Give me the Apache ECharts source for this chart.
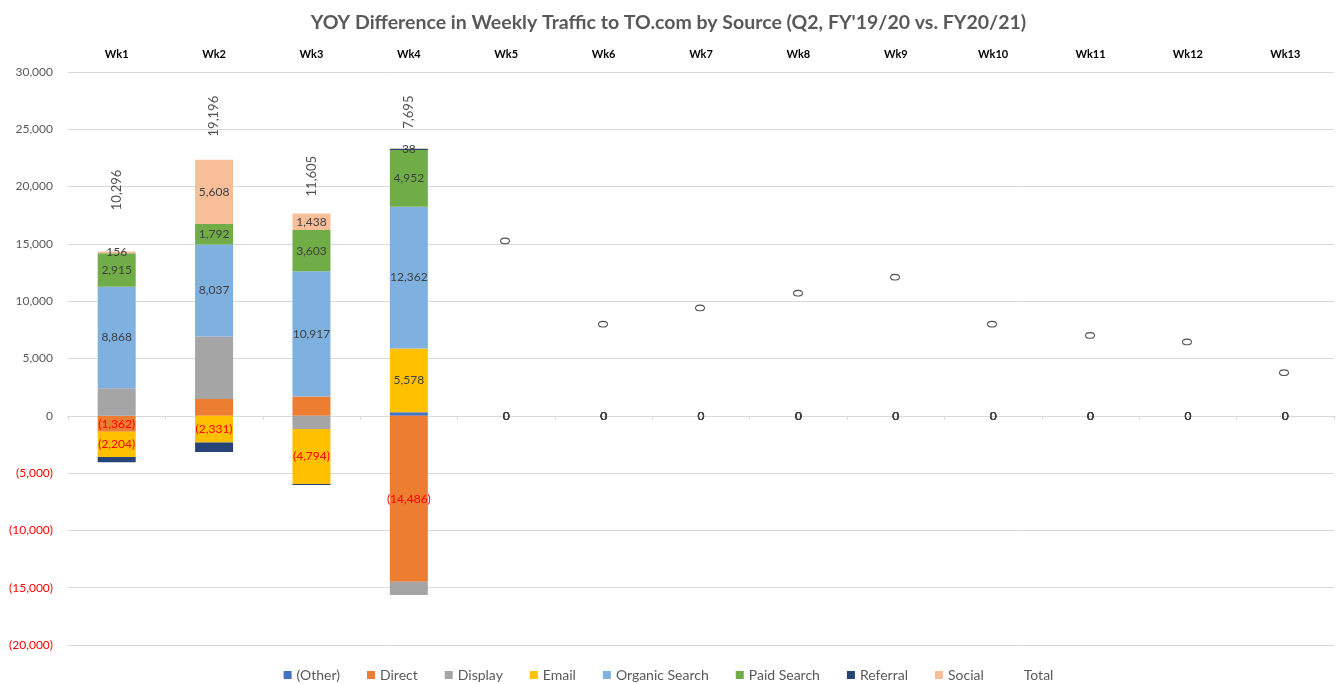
<!DOCTYPE html>
<html>
<head>
<meta charset="utf-8">
<script src="https://cdn.jsdelivr.net/npm/echarts@6/dist/echarts.min.js"></script>
<style>
html,body{margin:0;padding:0;background:#fff;}
#chart{width:1337px;height:684px;}
</style>
</head>
<body>
<div id="chart"></div>
<script>
const categories = ['Wk1','Wk2','Wk3','Wk4','Wk5','Wk6','Wk7','Wk8','Wk9','Wk10','Wk11','Wk12','Wk13'];
const other    = [-20, 0, 0, 300, 0, 0, 0, 0, 0, 0, 0, 0, 0];
const direct   = [-1362, 1460, 1691, -14486, 0, 0, 0, 0, 0, 0, 0, 0, 0];
const display  = [2400, 5450, -1150, -1149, 0, 0, 0, 0, 0, 0, 0, 0, 0];
const email    = [-2204, -2331, -4794, 5578, 0, 0, 0, 0, 0, 0, 0, 0, 0];
const organic  = [8868, 8037, 10917, 12362, 0, 0, 0, 0, 0, 0, 0, 0, 0];
const paid     = [2915, 1792, 3603, 4952, 0, 0, 0, 0, 0, 0, 0, 0, 0];
const referral = [-457, -820, -100, 100, 0, 0, 0, 0, 0, 0, 0, 0, 0];
const social   = [156, 5608, 1438, 38, 0, 0, 0, 0, 0, 0, 0, 0, 0];
const totals   = [10296, 19196, 11605, 7695, 0, 0, 0, 0, 0, 0, 0, 0, 0];
// where the Total data labels sit (value-axis units)
const totalLabelY = [19700, 26150, 20900, 26500, 15250, 8000, 9400, 10700, 12100, 8000, 7000, 6450, 3750];
const yTicks = { min: -20000, max: 30000, interval: 5000 };

function fmt(v){
  const s = Math.abs(v).toLocaleString('en-US');
  return v < 0 ? '(' + s + ')' : s;
}

const FONT = 'Lato, "Open Sans", sans-serif';
const labelBase = {
  show: true, position: 'inside', fontFamily: FONT, fontSize: 12,
  color: '#404040'
};

const seriesDefs = [
  { name: '(Other)', data: other, color: '#4472C4', label: false },
  { name: 'Direct', data: direct, color: '#ED7D31', label: true, hidePos: true },
  { name: 'Display', data: display, color: '#A5A5A5', label: false },
  { name: 'Email', data: email, color: '#FFC000', label: true },
  { name: 'Organic Search', data: organic, color: '#7EB0E0', label: true },
  { name: 'Paid Search', data: paid, color: '#70AD47', label: true },
  { name: 'Referral', data: referral, color: '#264478', label: false },
  { name: 'Social', data: social, color: '#F8BE9A', label: true }
];

const series = seriesDefs.map(d => ({
  name: d.name,
  type: 'bar',
  stack: 'total',
  barWidth: 38,
  xAxisIndex: 0,
  itemStyle: { color: d.color },
  data: d.data.map(v => ({
    value: v,
    label: d.label ? {
      show: !(d.hidePos && v > 0),
      color: v < 0 ? '#FF0000' : '#404040'
    } : { show: false }
  })),
  label: d.label ? Object.assign({}, labelBase, { formatter: p => fmt(p.value) }) : { show: false },
  emphasis: { disabled: true }
}));

series.push({
  name: 'Total',
  type: 'scatter',
  xAxisIndex: 0,
  symbolSize: 0,
  itemStyle: { color: 'rgba(0,0,0,0)' },
  data: totalLabelY,
  label: {
    show: true, position: 'inside', rotate: 90,
    fontFamily: FONT, fontSize: 13, color: '#262626',
    formatter: p => fmt(totals[p.dataIndex])
  },
  z: 10
});

const chart = echarts.init(document.getElementById('chart'));
chart.setOption({
  animation: false,
  backgroundColor: '#fff',
  title: {
    text: "YOY Difference in Weekly Traffic to TO.com by Source (Q2, FY'19/20 vs. FY20/21)",
    left: 'center', top: 8,
    textStyle: { fontFamily: FONT, fontSize: 19.5, fontWeight: 'bold', color: '#595959' }
  },
  legend: {
    top: 663, left: 'center',
    itemWidth: 8, itemHeight: 8, itemGap: 27,
    icon: 'rect',
    textStyle: { fontFamily: FONT, fontSize: 14, color: '#595959' },
    data: ['(Other)','Direct','Display','Email','Organic Search','Paid Search','Referral','Social',
      { name: 'Total', itemStyle: { opacity: 0 } }]
  },
  grid: { left: 68, right: 3, top: 72, bottom: 39, containLabel: false },
  xAxis: [
    {
      type: 'category', data: categories, position: 'top',
      axisLine: { show: false, onZero: false },
      axisTick: { show: false },
      axisLabel: { fontFamily: FONT, fontSize: 11, fontWeight: 'bold', color: '#000', margin: 12 }
    },
    {
      type: 'category', data: categories, position: 'bottom',
      axisLine: { show: true, onZero: true, lineStyle: { color: '#D9D9D9' } },
      axisTick: { show: true, length: 4, lineStyle: { color: '#D9D9D9' } },
      axisLabel: { show: false }
    }
  ],
  yAxis: {
    type: 'value', min: yTicks.min, max: yTicks.max, interval: yTicks.interval,
    axisLine: { show: false },
    axisTick: { show: false },
    splitLine: { lineStyle: { color: '#D9D9D9', width: 1 } },
    axisLabel: {
      fontFamily: FONT, fontSize: 12, margin: 15,
      color: v => (v < 0 ? '#FF0000' : '#595959'),
      formatter: v => fmt(v)
    }
  },
  series: series
});
</script>
</body>
</html>
